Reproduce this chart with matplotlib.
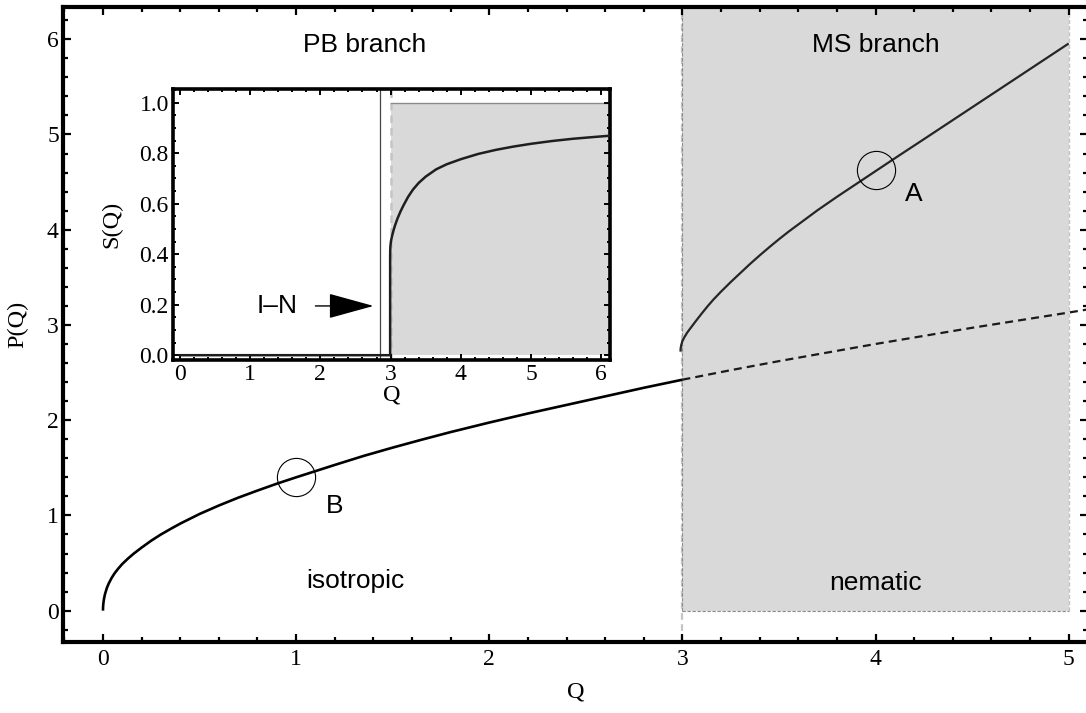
import matplotlib
matplotlib.use('Agg')
import matplotlib.pyplot as plt
from matplotlib.ticker import MultipleLocator, FormatStrFormatter

plt.rcParams['font.family'] = 'Liberation Serif'

# isotropic (PB) branch, solid part up to the transition
iso_q = [0, 0.0005, 0.002, 0.005, 0.01, 0.02, 0.03, 0.045, 0.06, 0.08, 0.1, 0.13,
         0.16, 0.2, 0.25, 0.3, 0.35, 0.4, 0.5, 0.6, 0.7, 0.8, 0.9, 1.0, 1.1, 1.2,
         1.35, 1.5, 1.65, 1.8, 2.0, 2.2, 2.4, 2.6, 2.8, 3.0]
iso_p = [0, 0.038, 0.076, 0.12, 0.17, 0.238, 0.286, 0.344, 0.392, 0.444, 0.49, 0.548,
         0.60, 0.662, 0.735, 0.80, 0.858, 0.914, 1.015, 1.104, 1.186, 1.261, 1.333, 1.40,
         1.465, 1.53, 1.625, 1.712, 1.795, 1.875, 1.975, 2.07, 2.16, 2.25, 2.34, 2.425]

# metastable continuation of the PB branch (dashed)
meta_q = [3.0, 3.25, 3.5, 3.75, 4.0, 4.25, 4.5, 4.75, 5.0, 5.12]
meta_p = [2.425, 2.525, 2.62, 2.71, 2.80, 2.885, 2.97, 3.05, 3.13, 3.17]

# MS branch
ms_q = [2.99, 2.991, 2.994, 3.0, 3.01, 3.025, 3.045, 3.075, 3.1, 3.13, 3.16, 3.2,
        3.25, 3.3, 3.35, 3.4, 3.455, 3.5, 3.55, 3.6, 3.65, 3.7, 3.75, 3.8, 3.9,
        4.0, 4.1, 4.25, 4.5, 4.75, 5.0]
ms_p = [2.72, 2.755, 2.79, 2.83, 2.87, 2.92, 2.975, 3.055, 3.12, 3.195, 3.265, 3.35,
        3.45, 3.545, 3.64, 3.73, 3.825, 3.90, 3.98, 4.055, 4.13, 4.205, 4.275, 4.345,
        4.48, 4.615, 4.75, 4.95, 5.285, 5.62, 5.955]

# inset: order parameter S(Q)
s_q = [0, 2.994, 2.994, 2.995, 2.998, 3.005, 3.018, 3.04, 3.065, 3.1, 3.14, 3.18,
       3.25, 3.32, 3.4, 3.5, 3.65, 3.8, 4.0, 4.25, 4.5, 4.75, 5.0, 5.3, 5.6, 5.9, 6.124]
s_s = [0, 0, 0.39, 0.412, 0.432, 0.45, 0.468, 0.492, 0.515, 0.542, 0.568, 0.591,
       0.627, 0.656, 0.682, 0.707, 0.736, 0.756, 0.776, 0.797, 0.813, 0.826, 0.837,
       0.848, 0.857, 0.864, 0.869]

q_tr = 2.85      # I-N transition in the inset
q_ms = 3.0       # start of MS branch
q_end = 5.0

pts_q = [4.0, 1.0]
pts_p = [4.63, 1.40]

gris = '#d9d9d9'
sans = 'Liberation Sans'

fig = plt.figure(figsize=(10.86, 7.13), dpi=100)
ax = fig.add_axes([0.058, 0.0996, 0.9442, 0.8904])

ax.set_xlim(-0.207, 5.102)
ax.set_ylim(-0.329, 6.337)

# gray nematic region
ax.fill_between([q_ms, q_end], 0, 6.5, color=gris, lw=0, zorder=0)
ax.axvline(q_ms, color='#c4c4c4', lw=1.6, ls=(0, (3, 2)), zorder=0.5)
ax.plot([q_ms, q_ms], [0, 6.5], color='#8a8a8a', lw=0.8, ls=(0, (3, 1.5)), zorder=0.6)
ax.plot([q_ms, q_end], [0, 0], color='#8a8a8a', lw=0.8, ls=(0, (3, 1.5)), zorder=0.6)
ax.plot([q_end, q_end], [0, 6.5], color='#c4c4c4', lw=1.0, ls=(0, (3, 1.5)), zorder=0.6)

ax.plot(iso_q, iso_p, color='black', lw=1.9, solid_capstyle='butt', zorder=3)
ax.plot(meta_q, meta_p, color='#1a1a1a', lw=1.6, dashes=(3.6, 2.3), zorder=3)
ax.plot(ms_q, ms_p, color='#262626', lw=1.6, solid_capstyle='butt', zorder=3)

ax.plot(pts_q, pts_p, 'o', ms=27.5, mfc='none', mec='black', mew=0.8, zorder=4)
ax.text(4.196, 4.38, 'A', family=sans, fontsize=19, ha='center', va='center')
ax.text(1.197, 1.10, 'B', family=sans, fontsize=19, ha='center', va='center')

ax.text(1.357, 5.94, 'PB branch', family=sans, fontsize=19, ha='center', va='center')
ax.text(4.0, 5.94, 'MS branch', family=sans, fontsize=19, ha='center', va='center')
ax.text(1.305, 0.31, 'isotropic', family=sans, fontsize=19, ha='center', va='center')
ax.text(4.0, 0.29, 'nematic', family=sans, fontsize=19, ha='center', va='center')

ax.xaxis.set_major_locator(MultipleLocator(1))
ax.xaxis.set_minor_locator(MultipleLocator(0.2))
ax.yaxis.set_major_locator(MultipleLocator(1))
ax.yaxis.set_minor_locator(MultipleLocator(0.2))
ax.tick_params(which='both', direction='in', top=True, right=True, labelsize=17,
               width=1.6, pad=5)
ax.tick_params(which='major', length=5.5)
ax.tick_params(which='minor', length=3.6)
ax.tick_params(axis='y', pad=3)
for s in ax.spines.values():
    s.set_linewidth(3.0)

ax.set_xlabel('Q', fontsize=17.5)
ax.set_ylabel('P(Q)', fontsize=17.5)
ax.xaxis.set_label_coords(0.5, -0.063)
ax.yaxis.set_label_coords(-0.034, 0.5)

# inset with S(Q)
ins = fig.add_axes([0.1593, 0.4951, 0.4024, 0.3801])
ins.set_xlim(-0.097, 6.124)
ins.set_ylim(-0.019, 1.054)

ins.fill_between([3.01, 6.3], 0, 1.0, color=gris, lw=0, zorder=0)
ins.plot([3.01, 6.3], [1.0, 1.0], color='#8a8a8a', lw=1.0, zorder=0.6)
ins.axvline(3.01, color='#c4c4c4', lw=1.8, ls=(0, (3, 2)), zorder=0.5)
ins.axvline(q_tr, color='#444444', lw=0.9, zorder=1)

ins.plot(s_q, s_s, color='#1e1e1e', lw=1.8, zorder=3)

ins.annotate('', xy=(2.757, 0.195), xytext=(1.93, 0.195),
             arrowprops=dict(arrowstyle='-|>,head_length=2.9,head_width=0.8',
                             color='black', lw=1.0, shrinkA=0, shrinkB=0))
ins.text(1.383, 0.195, 'I\u2013N', family=sans, fontsize=19, ha='center', va='center')

ins.xaxis.set_major_locator(MultipleLocator(1))
ins.xaxis.set_minor_locator(MultipleLocator(0.2))
ins.yaxis.set_major_locator(MultipleLocator(0.2))
ins.yaxis.set_minor_locator(MultipleLocator(0.05))
ins.yaxis.set_major_formatter(FormatStrFormatter('%.1f'))
ins.tick_params(which='both', direction='in', top=True, right=True, labelsize=17,
                width=1.4, pad=3)
ins.tick_params(which='major', length=4.5)
ins.tick_params(which='minor', length=2.5)
for s in ins.spines.values():
    s.set_linewidth(2.6)

ins.set_xlabel('Q', fontsize=17.5)
ins.set_ylabel('S(Q)', fontsize=17.5)
ins.xaxis.set_label_coords(0.5, -0.092)
ins.yaxis.set_label_coords(-0.116, 0.5)

fig.savefig('out.png', dpi=100)
